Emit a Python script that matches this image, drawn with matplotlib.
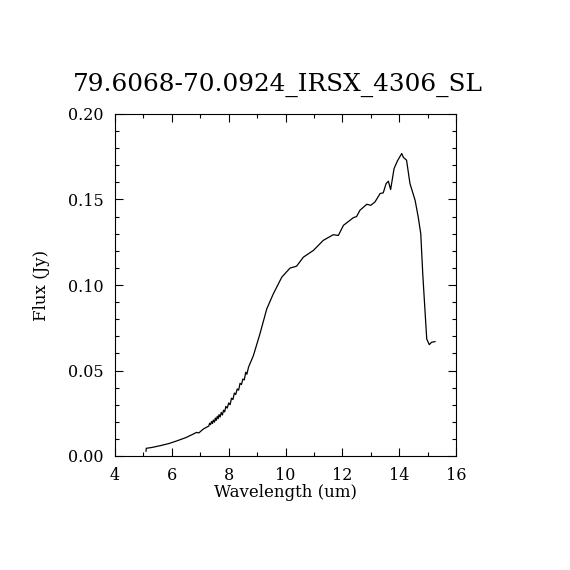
import matplotlib
matplotlib.use('Agg')
import matplotlib.pyplot as plt
from matplotlib.ticker import MultipleLocator

plt.rcParams['font.family'] = 'DejaVu Serif'

titulo = '79.6068-70.0924_IRSX_4306_SL'

# wavelength (um)
wl = [5.09, 5.10, 5.30, 5.58, 5.90, 6.17, 6.50, 6.75, 6.87, 6.95, 7.11, 7.22,
      7.30, 7.33, 7.36, 7.40, 7.43, 7.46, 7.50, 7.53, 7.56, 7.60, 7.63, 7.66,
      7.70, 7.74, 7.78, 7.82, 7.86, 7.90, 7.95, 8.00, 8.05, 8.10, 8.15, 8.20,
      8.25, 8.30, 8.35, 8.40, 8.45, 8.50, 8.55, 8.60, 8.64,
      8.70, 8.87, 9.10, 9.34, 9.57, 9.87, 10.16, 10.39, 10.63, 10.98, 11.33,
      11.68, 11.86, 12.04, 12.39, 12.50, 12.62, 12.86, 13.00, 13.15, 13.33,
      13.44, 13.54, 13.62, 13.70, 13.82, 13.94, 14.09, 14.15, 14.26, 14.38,
      14.56, 14.67, 14.76, 14.83, 14.97, 15.06, 15.14, 15.26]

# flux (Jy)
flux = [0.0028, 0.0045, 0.0050, 0.0060, 0.0073, 0.0088, 0.0108, 0.0128, 0.0138, 0.0135, 0.0158, 0.0168,
        0.0175, 0.0192, 0.0183, 0.0202, 0.0190, 0.0210, 0.0198, 0.0222, 0.0208, 0.0232, 0.0218, 0.0242,
        0.0228, 0.0255, 0.0240, 0.0268, 0.0258, 0.0290, 0.0280, 0.0310, 0.0300, 0.0338, 0.0330, 0.0368,
        0.0360, 0.0392, 0.0385, 0.0425, 0.0418, 0.0450, 0.0445, 0.0490, 0.0478,
        0.0520, 0.0587, 0.0714, 0.0860, 0.0948, 0.1046, 0.1099, 0.1110, 0.1163, 0.1202, 0.1261,
        0.1294, 0.1290, 0.1349, 0.1394, 0.1400, 0.1437, 0.1472, 0.1466, 0.1486, 0.1535,
        0.1539, 0.1593, 0.1607, 0.1558, 0.1681, 0.1726, 0.1769, 0.1746, 0.1730, 0.1593,
        0.1496, 0.1398, 0.1300, 0.1065, 0.0684, 0.0651, 0.0665, 0.0669]

fig = plt.figure(figsize=(5.7, 5.7), dpi=100)
ax = fig.add_axes([115/570, 114/570, 341/570, 342/570])

ax.plot(wl, flux, color='black', lw=0.9)

ax.set_xlim(4, 16)
ax.set_ylim(0, 0.20)
ax.xaxis.set_major_locator(MultipleLocator(2))
ax.xaxis.set_minor_locator(MultipleLocator(1))
ax.yaxis.set_major_locator(MultipleLocator(0.05))
ax.yaxis.set_minor_locator(MultipleLocator(0.01))
ax.yaxis.set_major_formatter(plt.FuncFormatter(lambda v, p: '%.2f' % v))

ax.tick_params(which='both', direction='in', top=True, right=True,
               width=0.8, labelsize=11.5)
ax.tick_params(which='major', length=5.5, pad=8)
ax.tick_params(which='minor', length=3)
for s in ax.spines.values():
    s.set_linewidth(0.8)

ax.set_xlabel('Wavelength (um)', fontsize=12, labelpad=0)
ax.set_ylabel('Flux (Jy)', fontsize=12, labelpad=13)
fig.text(278/570, 1 - 85/570, titulo, fontsize=17.8, ha='center', va='center')

plt.savefig('out.png', dpi=100)
